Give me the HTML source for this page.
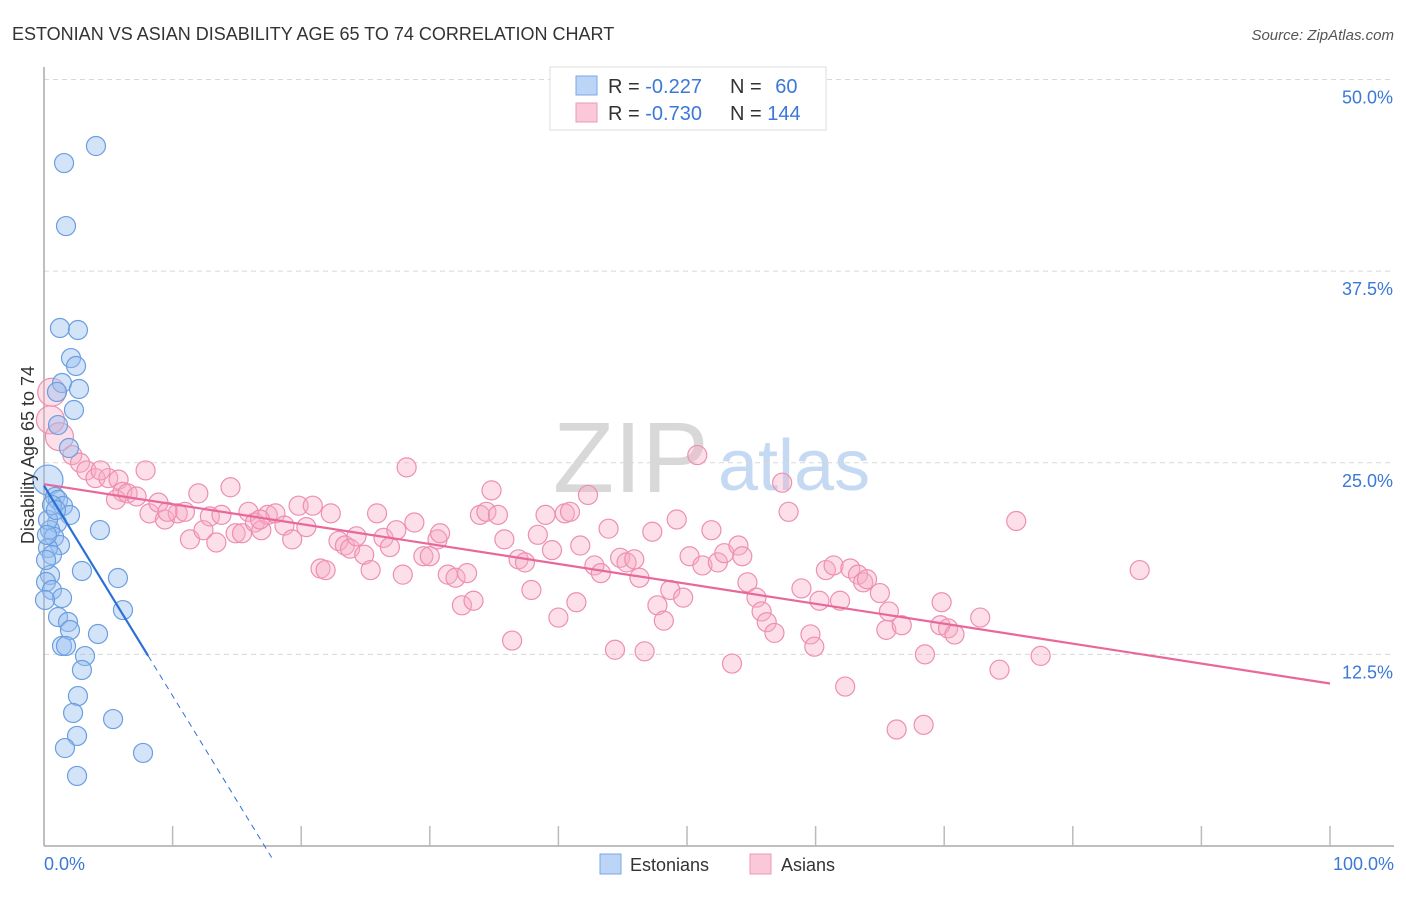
<!DOCTYPE html>
<html><head><meta charset="utf-8"><style>
body{margin:0;background:#fff;font-family:"Liberation Sans",sans-serif;}
svg text{font-family:"Liberation Sans",sans-serif;}
</style></head><body>
<svg id="chart" width="1406" height="892" xmlns="http://www.w3.org/2000/svg">
<text x="12" y="40" font-size="18" fill="#333">ESTONIAN VS ASIAN DISABILITY AGE 65 TO 74 CORRELATION CHART</text>
<text x="1394" y="40" font-size="15" fill="#555" font-style="italic" text-anchor="end">Source: ZipAtlas.com</text>
<g>
<text x="553" y="492" font-size="100" fill="#d8d8d8" font-family="Liberation Serif,serif">ZIP</text>
<text x="718" y="490" font-size="72" fill="#c5daf2">atlas</text>
</g>
<g id="grid"></g>
<g id="axes"></g>
<g id="pink"></g>
<g id="blue"></g>
<g id="trends"></g>
<text transform="translate(34,455) rotate(-90)" font-size="18" fill="#333" text-anchor="middle">Disability Age 65 to 74</text>
<text x="44" y="870" font-size="18" fill="#3b78d8">0.0%</text>
<text x="1394" y="870" font-size="18" fill="#3b78d8" text-anchor="end">100.0%</text>
<g>
<rect x="550" y="67" width="276" height="63" fill="#fff" stroke="#ddd"/>
<rect x="576" y="76" width="21" height="19" fill="#bcd4f6" stroke="#7aa7e6"/>
<rect x="576" y="103" width="21" height="19" fill="#fac8d8" stroke="#ef99b6"/>
<text x="608" y="93" font-size="20" fill="#333">R = <tspan fill="#3b78d8">-0.227</tspan></text>
<text x="730" y="93" font-size="20" fill="#333">N = <tspan fill="#3b78d8" dx="8">60</tspan></text>
<text x="608" y="120" font-size="20" fill="#333">R = <tspan fill="#3b78d8">-0.730</tspan></text>
<text x="730" y="120" font-size="20" fill="#333">N = <tspan fill="#3b78d8">144</tspan></text>
</g>
<g>
<rect x="600" y="854" width="21" height="20" fill="#bcd4f6" stroke="#7aa7e6"/>
<text x="630" y="871" font-size="18" fill="#333">Estonians</text>
<rect x="750" y="854" width="21" height="20" fill="#fac8d8" stroke="#ef99b6"/>
<text x="781" y="871" font-size="18" fill="#333">Asians</text>
</g>
</svg>
<script>
const yTicks=[12.5,25,37.5,50];
const yTickLabels=["12.5%","25.0%","37.5%","50.0%"];
const xTicks=[10,20,30,40,50,60,70,80,90,100];
const blueX=[4.04,1.56,1.71,1.24,2.64,2.10,2.49,1.40,2.72,1.01,2.33,1.09,1.94,0.31,0.86,1.09,1.48,2.02,1.01,4.35,0.47,0.78,1.24,0.31,0.62,2.95,0.47,5.75,0.16,0.62,1.40,6.14,1.09,1.87,2.02,4.20,1.40,1.71,3.19,2.95,2.64,2.26,5.37,2.57,1.63,7.70,2.57,0.31,0.16,0.08,0.62,0.93,0.23];
const blueY=[45.66,44.55,40.44,33.79,33.66,31.83,31.31,30.20,29.81,29.62,28.44,27.46,25.96,23.87,22.77,22.57,22.18,21.59,21.07,20.61,20.61,20.16,19.63,19.44,18.98,17.94,17.68,17.48,17.22,16.70,16.18,15.39,14.94,14.61,14.09,13.83,13.05,13.05,12.39,11.48,9.78,8.68,8.28,7.18,6.39,6.07,4.57,21.27,18.66,16.05,22.24,21.92,20.29];
const pinkX=[0.6,0.5,1.2,2.2,2.8,3.3,4.0,5.0,5.8,4.4,7.9,6.1,5.6,6.5,7.2,8.2,8.9,9.4,10.4,10.96,11.35,12.0,12.4,12.9,13.4,13.8,14.5,14.9,15.4,15.9,16.4,16.9,17.4,18.0,18.7,19.3,19.8,20.4,20.9,21.5,21.9,22.3,22.9,23.4,23.8,24.3,24.9,25.4,25.9,26.4,26.9,27.4,27.9,28.2,28.8,29.5,30.0,30.6,30.8,31.4,32.0,32.5,32.9,33.4,33.9,34.4,34.8,35.3,35.8,36.4,36.9,37.4,37.9,38.4,39.0,39.5,40.0,40.5,40.9,41.4,41.7,42.3,42.8,43.3,43.9,44.4,44.8,45.3,45.9,46.3,46.7,47.3,47.7,48.2,48.7,49.2,49.7,50.2,50.8,51.2,51.9,52.4,52.9,53.5,54.0,54.3,54.7,55.4,55.8,56.2,56.8,57.4,57.9,58.9,59.6,59.9,60.3,60.8,61.4,61.9,62.3,62.7,63.3,63.7,64.0,65.0,65.5,65.7,66.3,66.7,68.5,68.4,69.8,69.7,70.3,70.8,72.8,74.3,75.6,77.5,85.2,16.8,9.6];
const pinkY=[29.6,27.8,26.7,25.5,25.0,24.5,24.0,24.0,23.9,24.5,24.5,23.1,22.6,23.0,22.8,21.7,22.4,21.3,21.7,21.8,20.0,23.0,20.6,21.5,19.8,21.6,23.4,20.4,20.4,21.8,21.1,20.6,21.6,21.7,20.9,20.0,22.2,20.8,22.2,18.1,18.0,21.7,19.9,19.6,19.4,20.2,19.0,18.0,21.7,20.1,19.5,20.6,17.7,24.7,21.1,18.9,18.9,20.0,20.4,17.7,17.5,15.7,17.8,16.0,21.6,21.8,23.2,21.6,20.0,13.4,18.7,18.5,16.7,20.3,21.6,19.3,14.9,21.7,21.8,15.9,19.6,22.9,18.3,17.8,20.7,12.8,18.8,18.5,18.7,17.5,12.7,20.5,15.7,14.7,16.7,21.3,16.2,18.9,25.5,18.3,20.6,18.5,19.1,11.9,19.6,18.9,17.2,16.2,15.3,14.6,13.9,23.7,21.8,16.8,13.8,13.0,16.0,18.0,18.3,16.0,10.4,18.1,17.7,17.2,17.4,16.5,14.1,15.3,7.6,14.4,12.5,7.9,15.9,14.4,14.2,13.8,14.9,11.5,21.2,12.4,18.0,21.3,21.8];
const blueTrend=[23.5,-0.227];
const pinkTrend=[23.6,-0.13];
const X0=44,X1=1330,Y0=846,Y50=79.5;
const sx=v=>X0+(X1-X0)*v/100;
const sy=v=>Y0-(Y0-Y50)*v/50;
const NS="http://www.w3.org/2000/svg";
function mk(tag,attrs,parent){const e=document.createElementNS(NS,tag);for(const k in attrs)e.setAttribute(k,attrs[k]);parent.appendChild(e);return e;}
const grid=document.getElementById('grid'),axes=document.getElementById('axes');
yTicks.forEach((t,i)=>{
 const l=mk('line',{x1:X0,x2:1394,y1:sy(t),y2:sy(t),stroke:'#d8d8d8','stroke-dasharray':'5,4'},grid);
 
 
 const tx=mk('text',{x:1393,y:sy(t)+24,'font-size':18,fill:'#3b78d8','text-anchor':'end'},axes);
 tx.textContent=yTickLabels[i];
 
 
});
const ya=mk('line',{x1:X0,x2:X0,y1:67,y2:Y0,stroke:'#aaa','stroke-width':1.5},axes);


const xa=mk('line',{x1:X0,x2:1394,y1:Y0,y2:Y0,stroke:'#aaa','stroke-width':1.5},axes);


xTicks.forEach(t=>{
 const l=mk('line',{x1:sx(t),x2:sx(t),y1:Y0,y2:Y0-20,stroke:'#bbb','stroke-width':1.5},axes);
 
 
});
const pg=document.getElementById('pink');
pinkX.forEach((x,i)=>{
 const c=mk('circle',{cx:sx(x),cy:sy(pinkY[i]),r:i<3?14:9.5,fill:'rgba(247,170,196,0.38)',stroke:'#ee8fb0','stroke-width':1.2},pg);
 
 
});
const bg=document.getElementById('blue');
blueX.forEach((x,i)=>{
 const c=mk('circle',{cx:sx(x),cy:sy(blueY[i]),r:i===13?15:9.5,fill:'rgba(150,190,240,0.42)',stroke:'#6b9ee0','stroke-width':1.2},bg);
 
 
});
const tg=document.getElementById('trends');
const bl=x=>blueTrend[0]+blueTrend[1]*x*0;
const pl=mk('line',{x1:sx(0),y1:sy(pinkTrend[0]),x2:sx(100),y2:sy(pinkTrend[0]+pinkTrend[1]*100),stroke:'#e8689a','stroke-width':2.2},tg);


const bSlope=-1.37;
const b1=mk('line',{x1:sx(0),y1:sy(blueTrend[0]),x2:sx(8.1),y2:sy(blueTrend[0]+bSlope*8.1),stroke:'#2a6fd6','stroke-width':2.2},tg);


const b2=mk('line',{x1:sx(8.1),y1:sy(blueTrend[0]+bSlope*8.1),x2:sx(17.7),y2:sy(blueTrend[0]+bSlope*17.7),stroke:'#2a6fd6','stroke-width':1,'stroke-dasharray':'6,5'},tg);


</script>
</body></html>
